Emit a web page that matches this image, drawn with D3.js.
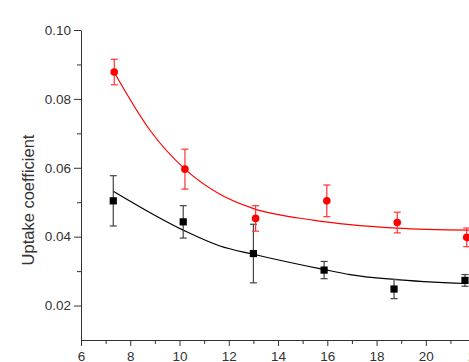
<!DOCTYPE html>
<html>
<head>
<meta charset="utf-8">
<script src="https://cdn.jsdelivr.net/npm/d3@7"></script>
<style>
  html, body { margin: 0; padding: 0; background: #fff; }
  svg { display: block; }
  text { font-family: Arial, "Liberation Sans", sans-serif; fill: #333; }
</style>
</head>
<body>
<div id="chart"></div>
<script>
// ---- Data -------------------------------------------------------------------
const redX    = [7.35, 10.22, 13.09, 15.98, 18.84, 21.66];
const redY    = [0.0878, 0.0596, 0.0453, 0.0504, 0.0441, 0.0398];
const redErr  = [0.0037, 0.0058, 0.0037, 0.0046, 0.0030, 0.0027];

const blackX   = [7.31, 10.15, 13.00, 15.87, 18.71, 21.59];
const blackY   = [0.0504, 0.0443, 0.0351, 0.0303, 0.0248, 0.0273];
const blackErr = [0.0073, 0.0047, 0.0085, 0.0025, 0.0028, 0.0017];

// fitted decay curves
const redFitX   = [7.34, 8.80, 10.22, 11.64, 12.98, 15.42, 16.92, 18.83, 21.75];
const redFitY   = [0.0878, 0.0709, 0.0596, 0.0523, 0.0482, 0.0448, 0.0435, 0.0425, 0.0419];
const blackFitX = [7.31, 10.15, 11.64, 13.00, 15.84, 16.92, 18.68, 21.66];
const blackFitY = [0.0532, 0.0419, 0.0373, 0.0349, 0.0305, 0.0290, 0.0276, 0.0264];

const xTicks = [6, 8, 10, 12, 14, 16, 18, 20, 22];
const yTicks = [0.02, 0.04, 0.06, 0.08, 0.10];

// ---- Layout -----------------------------------------------------------------
const W = 469, H = 362;
const M = { top: 30, left: 81, bottom: 22 };

const svg = d3.select('#chart').append('svg')
  .attr('width', W).attr('height', H);

const x = d3.scaleLinear().domain([6, 22]).range([M.left, M.left + 16 * 24.63]);
const y = d3.scaleLinear().domain([0.01, 0.10]).range([H - M.bottom, M.top]);

const AX = '#333';

// ---- Axes -------------------------------------------------------------------
// minor ticks first
svg.append('g')
  .attr('transform', `translate(0,${H - M.bottom})`)
  .call(d3.axisBottom(x).tickValues(d3.range(7, 22, 2)).tickFormat('').tickSize(4))
  .call(g => g.select('.domain').remove())
  .call(g => g.selectAll('line').attr('stroke', AX));

svg.append('g')
  .attr('transform', `translate(${M.left},0)`)
  .call(d3.axisLeft(y).tickValues([0.03, 0.05, 0.07, 0.09]).tickFormat('').tickSize(4))
  .call(g => g.select('.domain').remove())
  .call(g => g.selectAll('line').attr('stroke', AX));

svg.append('g')
  .attr('transform', `translate(0,${H - M.bottom})`)
  .call(d3.axisBottom(x).tickValues(xTicks).tickFormat(d3.format('d'))
    .tickSize(6).tickPadding(5).tickSizeOuter(0))
  .call(g => g.select('.domain').attr('stroke', AX))
  .call(g => g.selectAll('.tick line').attr('stroke', AX))
  .call(g => g.selectAll('text').style('font-size', '13.5px').attr('fill', '#333'));

svg.append('g')
  .attr('transform', `translate(${M.left},0)`)
  .call(d3.axisLeft(y).tickValues(yTicks).tickFormat(d3.format('.2f'))
    .tickSize(7).tickPadding(3).tickSizeOuter(0))
  .call(g => g.select('.domain').attr('stroke', AX))
  .call(g => g.selectAll('.tick line').attr('stroke', AX))
  .call(g => g.selectAll('text').style('font-size', '13.5px').attr('fill', '#333'));

// axis title
svg.append('text')
  .attr('transform', 'translate(33.5,200) rotate(-90)')
  .attr('text-anchor', 'middle')
  .style('font-size', '16.5px')
  .text('Uptake coefficient');

// ---- Series -----------------------------------------------------------------
const line = d3.line().x(d => x(d[0])).y(d => y(d[1])).curve(d3.curveMonotoneX);

function drawSeries(xs, ys, errs, fx, fy, color, errColor, shape) {
  const g = svg.append('g');

  g.append('path')
    .datum(d3.zip(fx, fy))
    .attr('d', line)
    .attr('fill', 'none')
    .attr('stroke', color)
    .attr('stroke-width', 1.2);

  const pts = d3.zip(xs, ys, errs);
  pts.forEach(([px, py, e]) => {
    const cx = x(px);
    g.append('line')
      .attr('x1', cx).attr('x2', cx)
      .attr('y1', y(py + e)).attr('y2', y(py - e))
      .attr('stroke', errColor).attr('stroke-width', 1.2);
    [py + e, py - e].forEach(v => {
      g.append('line')
        .attr('x1', cx - 3.5).attr('x2', cx + 3.5)
        .attr('y1', y(v)).attr('y2', y(v))
        .attr('stroke', errColor).attr('stroke-width', 1.2);
    });
    if (shape === 'circle') {
      g.append('circle').attr('cx', cx).attr('cy', y(py)).attr('r', 3.8).attr('fill', color);
    } else {
      g.append('rect').attr('x', cx - 3.6).attr('y', y(py) - 3.6)
        .attr('width', 7.2).attr('height', 7.2).attr('fill', color);
    }
  });
}

drawSeries(blackX, blackY, blackErr, blackFitX, blackFitY, '#000', '#444', 'square');
drawSeries(redX, redY, redErr, redFitX, redFitY, '#f00', '#f33', 'circle');
</script>
</body>
</html>
